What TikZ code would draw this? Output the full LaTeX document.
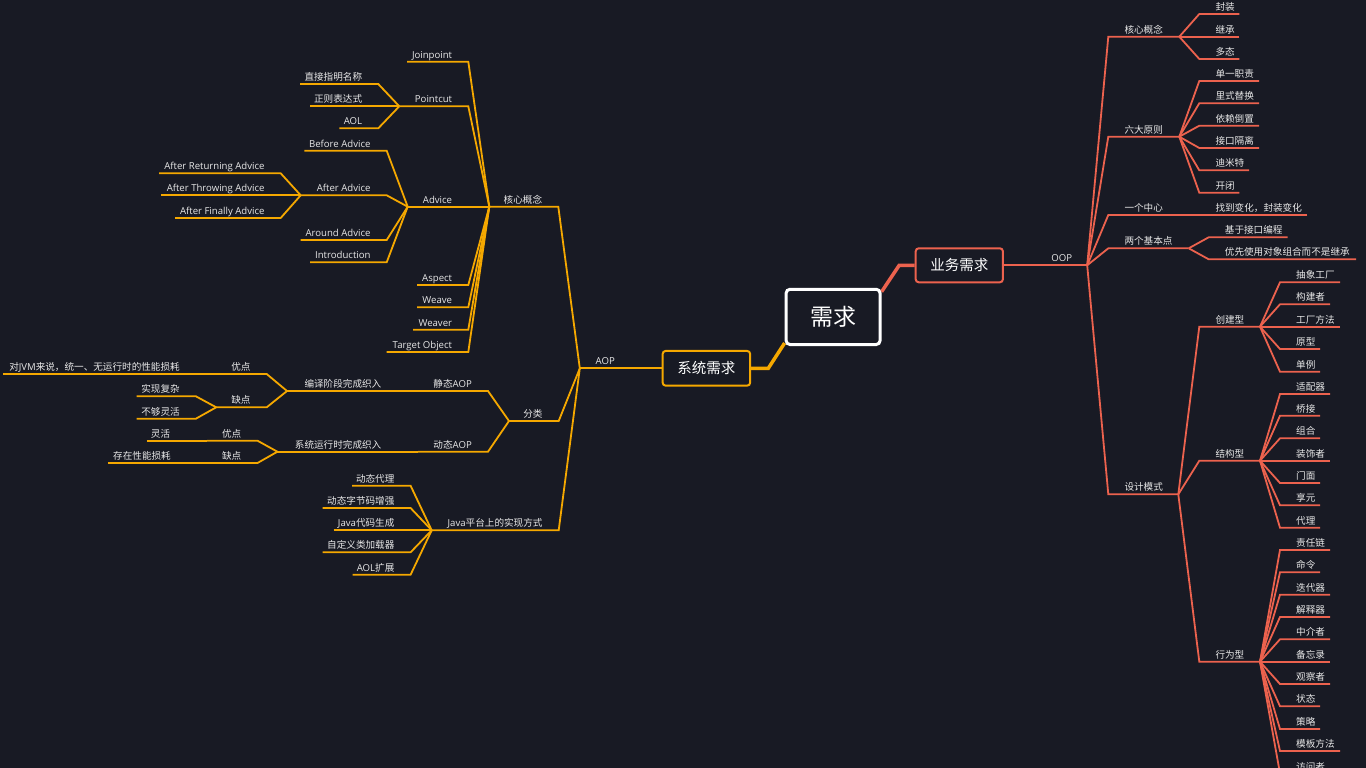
\documentclass[tikz,border=0pt]{standalone}
\usepackage{fontspec}
\setmainfont{Noto Sans CJK SC}
\newfontfamily\lat{Open Sans}
\definecolor{bgc}{RGB}{24,26,36}
\definecolor{org}{RGB}{245,168,0}
\definecolor{rd}{RGB}{236,98,78}
\definecolor{txc}{RGB}{232,232,232}
\pgfdeclarelayer{bglayer}
\pgfdeclarelayer{edges}
\pgfsetlayers{bglayer,edges,main}
\tikzset{
  lbl/.style={font=\fontsize{9.6}{11}\selectfont, text=txc, inner sep=0pt},
  oline/.style={draw=org, line width=1.8pt, line join=miter, line cap=butt},
  rline/.style={draw=rd, line width=1.8pt, line join=miter, line cap=butt},
  mainbox/.style={fill=bgc, rounded corners=3pt, text=white, inner sep=0pt},
}
% left-side node: name, x-left(junction), x-right, y, text, parent junction
\newcommand\Lnode[6]{%
  \coordinate (#1-l) at (#2,#4);
  \coordinate (#1-r) at (#3,#4);
  \node[lbl,anchor=base east] (#1) at ({#3-16},{#4-3.5}) {#5};
  \draw[oline] (#1-l) -- (#1-r) -- (#6);
}
% right-side node: name, x-left, x-right(junction), y, text, parent junction
\newcommand\Rnode[6]{%
  \coordinate (#1-l) at (#2,#4);
  \coordinate (#1-r) at (#3,#4);
  \node[lbl,anchor=base west] (#1) at ({#2+16},{#4-3.5}) {#5};
  \draw[rline] (#1-r) -- (#1-l) -- (#6);
}
\begin{document}
\begin{tikzpicture}[x=1pt,y=-1pt]
\useasboundingbox (0,0) rectangle (1366,768);
\begin{pgfonlayer}{bglayer}
  \fill[bgc] (0,0) rectangle (1366,768);
\end{pgfonlayer}

% main boxes
\node[mainbox, draw=white, line width=3pt, minimum width=94pt, minimum height=55.3pt, rounded corners=4pt, font=\fontsize{23}{26}\selectfont] (root) at (833.1,316.9) {需求};
\node[mainbox, draw=org, line width=2pt, minimum width=87.5pt, minimum height=34.7pt, font=\fontsize{14.5}{17}\selectfont] (sys) at (706.4,368.3) {系统需求};
\node[mainbox, draw=rd, line width=2pt, minimum width=87.2pt, minimum height=34pt, font=\fontsize{14.5}{17}\selectfont] (biz) at (959.3,265.3) {业务需求};

\coordinate (b1) at (768.3,368.3);
\coordinate (b2) at (899.2,265.3);
\coordinate (aop-l) at (579.8,368.3);
\coordinate (oop-r) at (1087.2,265.3);
\node[lbl,anchor=base west] (aop) at (595.5,364.8) {\lat AOP};
\node[lbl,anchor=base east] (oop) at (1072.4,261.8) {\lat OOP};

\begin{pgfonlayer}{edges}
  \draw[org, line width=3.5pt, line join=miter] ([yshift=3pt]root.south west) -- (b1) -- (sys.east);
  \draw[rd, line width=3.5pt, line join=miter] ([yshift=-4pt]root.north east) -- (b2) -- (biz.west);
  \draw[oline] (aop-l) -- (sys.west);
  \draw[rline] (biz.east) -- (oop-r);
\end{pgfonlayer}

% ===== left (AOP) =====
\Lnode{kc}{489.3}{558.3}{206.7}{核心概念}{aop-l}
\Lnode{fl}{509}{558.7}{421}{分类}{aop-l}
\Lnode{jv}{431.7}{558.7}{530.3}{{\lat Java}平台上的实现方式}{aop-l}

\Lnode{jp}{407}{468.3}{61.7}{\lat Joinpoint}{kc-l}
\Lnode{pc}{399.3}{468.3}{106.3}{\lat Pointcut}{kc-l}
\Lnode{adv}{407.7}{468.3}{206.7}{\lat Advice}{kc-l}
\Lnode{asp}{417}{468.3}{285}{\lat Aspect}{kc-l}
\Lnode{wv}{417}{468.3}{307.3}{\lat Weave}{kc-l}
\Lnode{wvr}{413}{468.3}{329.7}{\lat Weaver}{kc-l}
\Lnode{tob}{386.7}{468.3}{352}{\lat Target Object}{kc-l}

\Lnode{zj}{300}{378.3}{84}{直接指明名称}{pc-l}
\Lnode{zz}{310}{378.3}{106.3}{正则表达式}{pc-l}
\Lnode{aol}{339.3}{378.3}{128.3}{\lat AOL}{pc-l}

\Lnode{ba}{304.3}{386.7}{150.7}{\lat Before Advice}{adv-l}
\Lnode{aa}{300.7}{386.7}{195.3}{\lat After Advice}{adv-l}
\Lnode{ard}{300.7}{386.7}{240}{\lat Around Advice}{adv-l}
\Lnode{intr}{310}{386.7}{262.3}{\lat Introduction}{adv-l}

\Lnode{are}{159}{280.7}{173.3}{\lat After Returning Advice}{aa-l}
\Lnode{ate}{161}{280.7}{195.3}{\lat After Throwing Advice}{aa-l}
\Lnode{afe}{175}{280.7}{218}{\lat After Finally Advice}{aa-l}

\Lnode{jt}{418}{488}{391}{静态{\lat AOP}}{fl-l}
\Lnode{dtai}{418}{488}{451.7}{动态{\lat AOP}}{fl-l}
\Lnode{byj}{287}{397.5}{391}{编译阶段完成织入}{jt-l}
\Lnode{xt}{277.4}{397.5}{451.7}{系统运行时完成织入}{dtai-l}
\Lnode{yda}{217}{266.7}{374}{优点}{byj-l}
\Lnode{qda}{216.2}{266.7}{407.3}{缺点}{byj-l}
\Lnode{jvm}{3.1}{196}{374}{对{\lat JVM}来说，统一、无运行时的性能损耗}{yda-l}
\Lnode{sx}{136.6}{195.9}{396.3}{实现复杂}{qda-l}
\Lnode{bg}{136.6}{195.9}{418.7}{不够灵活}{qda-l}
\Lnode{ydb}{207}{257.5}{440.7}{优点}{xt-l}
\Lnode{qdb}{207}{257.5}{463}{缺点}{xt-l}
\Lnode{lh}{146.6}{186.3}{440.7}{灵活}{ydb-l}
\Lnode{cz}{107.9}{187}{463}{存在性能损耗}{qdb-l}

\Lnode{dl}{352}{410.6}{485.7}{动态代理}{jv-l}
\Lnode{zjm}{322.6}{410.6}{508}{动态字节码增强}{jv-l}
\Lnode{jdm}{333.7}{410.6}{530.3}{{\lat Java}代码生成}{jv-l}
\Lnode{zdy}{322.6}{410.6}{552.3}{自定义类加载器}{jv-l}
\Lnode{aolk}{352.5}{410.6}{574.7}{{\lat AOL}扩展}{jv-l}

% ===== right (OOP) =====
\Rnode{okc}{1108.3}{1179.3}{36.7}{核心概念}{oop-r}
\Rnode{ldy}{1108.3}{1179.3}{136.7}{六大原则}{oop-r}
\Rnode{yzx}{1108.3}{1179.3}{215}{一个中心}{oop-r}
\Rnode{lgj}{1108.3}{1188.7}{248.3}{两个基本点}{oop-r}
\Rnode{sjm}{1108.3}{1178.3}{494.3}{设计模式}{oop-r}

\Rnode{fz}{1199.3}{1239.3}{14}{封装}{okc-r}
\Rnode{jch}{1199.3}{1239.3}{36.7}{继承}{okc-r}
\Rnode{dta}{1199.3}{1239.3}{59}{多态}{okc-r}

\Rnode{dy}{1199.3}{1259}{81}{单一职责}{ldy-r}
\Rnode{ls}{1199.3}{1259}{103.3}{里式替换}{ldy-r}
\Rnode{yl}{1199.3}{1259}{125.7}{依赖倒置}{ldy-r}
\Rnode{jk}{1199.3}{1259}{148}{接口隔离}{ldy-r}
\Rnode{dm}{1199.3}{1249}{170.3}{迪米特}{ldy-r}
\Rnode{kb}{1199.3}{1239.3}{192.7}{开闭}{ldy-r}

\Rnode{zdb}{1199.3}{1307.3}{215}{找到变化，封装变化}{yzx-r}
\Rnode{jy}{1208.7}{1287.7}{237.3}{基于接口编程}{lgj-r}
\Rnode{yx}{1208.7}{1356}{259.3}{优先使用对象组合而不是继承}{lgj-r}

\Rnode{cjx}{1199.3}{1260}{326.7}{创建型}{sjm-r}
\Rnode{jgx}{1199.3}{1260}{460.7}{结构型}{sjm-r}
\Rnode{xwx}{1199.3}{1260}{661.7}{行为型}{sjm-r}

\Rnode{cxgc}{1280}{1340}{282.3}{抽象工厂}{cjx-r}
\Rnode{gjz}{1280}{1330}{304.3}{构建者}{cjx-r}
\Rnode{gcff}{1280}{1340}{326.7}{工厂方法}{cjx-r}
\Rnode{yx2}{1280}{1320}{349}{原型}{cjx-r}
\Rnode{dl2}{1280}{1320}{371.7}{单例}{cjx-r}

\Rnode{spq}{1280}{1330}{394}{适配器}{jgx-r}
\Rnode{qj}{1280}{1320}{415.7}{桥接}{jgx-r}
\Rnode{zh}{1280}{1320}{438.3}{组合}{jgx-r}
\Rnode{zsz}{1280}{1330}{460.7}{装饰者}{jgx-r}
\Rnode{mm}{1280}{1320}{483}{门面}{jgx-r}
\Rnode{xy}{1280}{1320}{505.3}{享元}{jgx-r}
\Rnode{dli}{1280}{1320}{527.7}{代理}{jgx-r}

\Rnode{zrl}{1280}{1330}{550}{责任链}{xwx-r}
\Rnode{ml}{1280}{1320}{572.3}{命令}{xwx-r}
\Rnode{ddq}{1280}{1330}{594.7}{迭代器}{xwx-r}
\Rnode{jsq}{1280}{1330}{617}{解释器}{xwx-r}
\Rnode{zjz}{1280}{1330}{639.3}{中介者}{xwx-r}
\Rnode{bwl}{1280}{1330}{661.7}{备忘录}{xwx-r}
\Rnode{gcz}{1280}{1330}{684}{观察者}{xwx-r}
\Rnode{zt}{1280}{1320}{706.3}{状态}{xwx-r}
\Rnode{cl}{1280}{1320}{729}{策略}{xwx-r}
\Rnode{mbff}{1280}{1340}{751}{模板方法}{xwx-r}
\Rnode{fwz}{1280}{1330}{773.5}{访问者}{xwx-r}
\end{tikzpicture}
\end{document}
